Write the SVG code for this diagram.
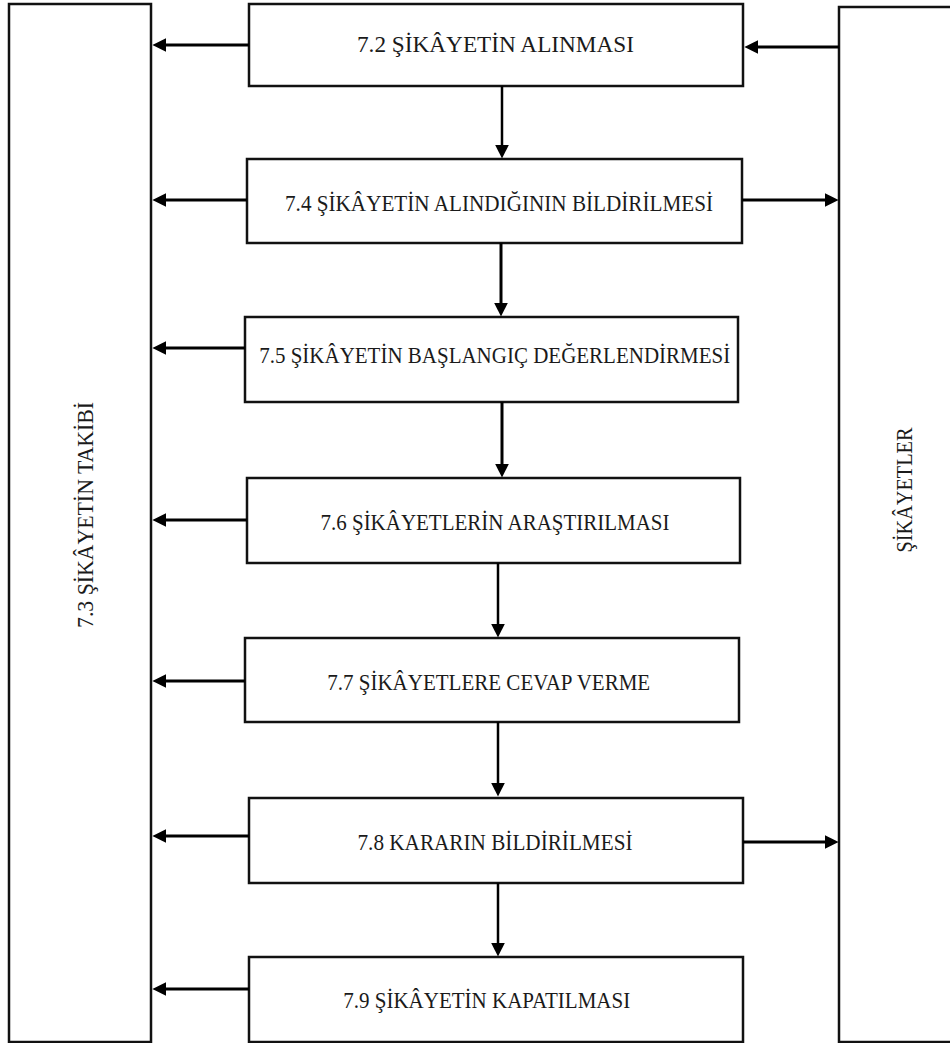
<svg xmlns="http://www.w3.org/2000/svg" width="950" height="1043" viewBox="0 0 950 1043">
<style>
.box{fill:#fff;stroke:#111;stroke-width:2.5}
.lbl{font-family:"Liberation Serif","Times New Roman",serif;font-size:23.5px;fill:#1a1a1a;text-anchor:middle}
.c{stroke:#000;stroke-width:3;fill:none}
.v{stroke:#000;stroke-width:2.5;fill:none}
</style>
<defs>
<marker id="ah" markerUnits="userSpaceOnUse" markerWidth="14" markerHeight="14" viewBox="0 0 13 13" refX="5" refY="6.5" orient="auto">
<path d="M0,0 L13,6.5 L0,13 z" fill="#000"/>
</marker>
</defs>
<rect width="950" height="1043" fill="#fff"/>

<g id="takip">
<rect class="box" x="9" y="4" width="142" height="1038"/>
<text class="lbl" transform="translate(93,515) rotate(-90)" textLength="226" lengthAdjust="spacingAndGlyphs">7.3 ŞİKÂYETİN TAKİBİ</text>
</g>
<g id="sikayetler">
<rect class="box" x="839" y="7" width="140" height="1035"/>
<text class="lbl" transform="translate(912,490) rotate(-90)" textLength="125" lengthAdjust="spacingAndGlyphs">ŞİKÂYETLER</text>
</g>

<g id="n72">
<rect class="box" x="249" y="4" width="494" height="82"/>
<text class="lbl" x="495.5" y="52" textLength="277" lengthAdjust="spacingAndGlyphs">7.2 ŞİKÂYETİN ALINMASI</text>
</g>
<g id="n74">
<rect class="box" x="247" y="159" width="495" height="84"/>
<text class="lbl" x="499" y="211" textLength="428" lengthAdjust="spacingAndGlyphs">7.4 ŞİKÂYETİN ALINDIĞININ BİLDİRİLMESİ</text>
</g>
<g id="n75">
<rect class="box" x="245" y="317" width="493" height="85"/>
<text class="lbl" x="494.7" y="363" textLength="471" lengthAdjust="spacingAndGlyphs">7.5 ŞİKÂYETİN BAŞLANGIÇ DEĞERLENDİRMESİ</text>
</g>
<g id="n76">
<rect class="box" x="247" y="478" width="493" height="85"/>
<text class="lbl" x="495" y="530" textLength="349" lengthAdjust="spacingAndGlyphs">7.6 ŞİKÂYETLERİN ARAŞTIRILMASI</text>
</g>
<g id="n77">
<rect class="box" x="245" y="638" width="494" height="84"/>
<text class="lbl" x="488.7" y="690" textLength="323" lengthAdjust="spacingAndGlyphs">7.7 ŞİKÂYETLERE CEVAP VERME</text>
</g>
<g id="n78">
<rect class="box" x="249" y="798" width="494" height="85"/>
<text class="lbl" x="495" y="850" textLength="275" lengthAdjust="spacingAndGlyphs">7.8 KARARIN BİLDİRİLMESİ</text>
</g>
<g id="n79">
<rect class="box" x="249" y="957" width="494" height="85"/>
<text class="lbl" x="486.7" y="1008" textLength="287" lengthAdjust="spacingAndGlyphs">7.9 ŞİKÂYETİN KAPATILMASI</text>
</g>

<g id="connectors">
<line class="c" x1="249" y1="45" x2="161" y2="45" marker-end="url(#ah)"/>
<line class="c" x1="247" y1="200" x2="161" y2="200" marker-end="url(#ah)"/>
<line class="c" x1="245" y1="348" x2="161" y2="348" marker-end="url(#ah)"/>
<line class="c" x1="247" y1="520" x2="161" y2="520" marker-end="url(#ah)"/>
<line class="c" x1="245" y1="681" x2="161" y2="681" marker-end="url(#ah)"/>
<line class="c" x1="249" y1="836" x2="161" y2="836" marker-end="url(#ah)"/>
<line class="c" x1="249" y1="989" x2="161" y2="989" marker-end="url(#ah)"/>

<line class="c" x1="839" y1="47" x2="753" y2="47" marker-end="url(#ah)"/>
<line class="c" x1="742" y1="200" x2="830" y2="200" marker-end="url(#ah)"/>
<line class="c" x1="743" y1="842" x2="830" y2="842" marker-end="url(#ah)"/>

<line class="v" x1="502" y1="86" x2="502" y2="150" marker-end="url(#ah)"/>
<line class="c" x1="501" y1="243" x2="501" y2="308" marker-end="url(#ah)"/>
<line class="c" x1="502" y1="402" x2="502" y2="469" marker-end="url(#ah)"/>
<line class="v" x1="498" y1="563" x2="498" y2="629" marker-end="url(#ah)"/>
<line class="v" x1="498" y1="722" x2="498" y2="788" marker-end="url(#ah)"/>
<line class="v" x1="498" y1="883" x2="498" y2="948" marker-end="url(#ah)"/>
</g>
</svg>
